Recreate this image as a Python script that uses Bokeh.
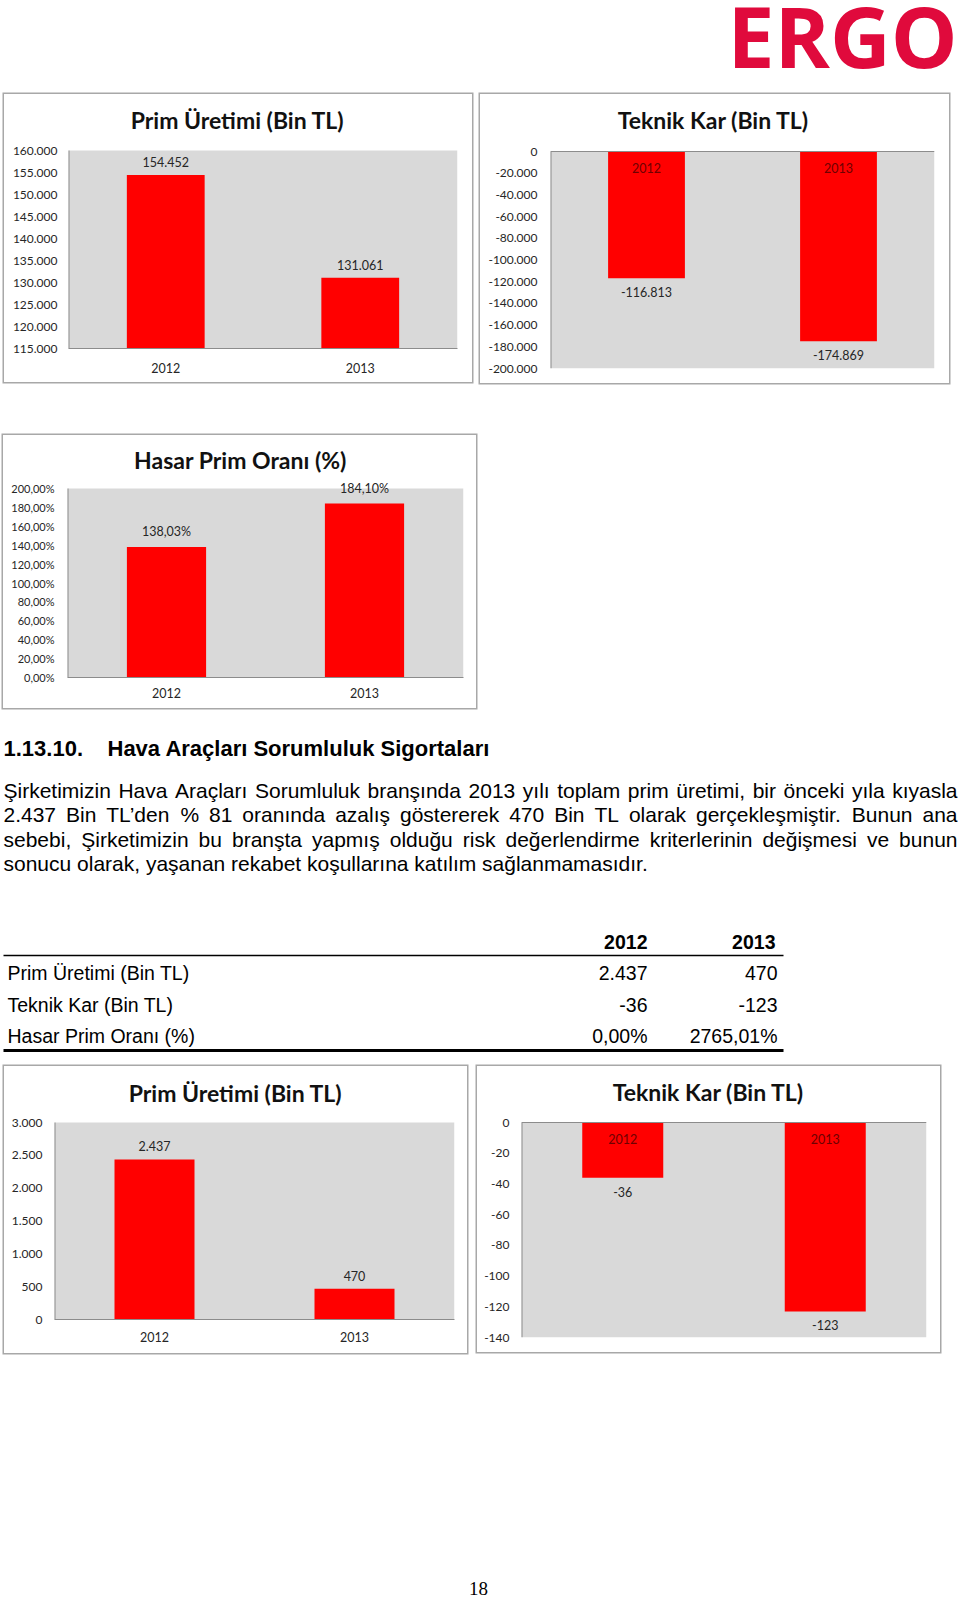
from bokeh.plotting import figure
from bokeh.models import (Range1d, FactorRange, FixedTicker, BoxAnnotation, Label,
                          LabelSet, Spacer, ColumnDataSource)
from bokeh.layouts import column, row
from bokeh.embed import file_html
from bokeh.resources import INLINE
from bokeh.core.properties import value

# ------------------------------------------------------------------ data
years = ["2012", "2013"]

prim_top = [154452, 131061]
prim_top_labels = ["154.452", "131.061"]
prim_top_ticks = [115000, 120000, 125000, 130000, 135000, 140000, 145000, 150000, 155000, 160000]
prim_top_tick_labels = ["115.000", "120.000", "125.000", "130.000", "135.000",
                        "140.000", "145.000", "150.000", "155.000", "160.000"]

teknik_top = [-116813, -174869]
teknik_top_labels = ["-116.813", "-174.869"]
teknik_top_ticks = [0, -20000, -40000, -60000, -80000, -100000, -120000, -140000,
                    -160000, -180000, -200000]
teknik_top_tick_labels = ["0", "-20.000", "-40.000", "-60.000", "-80.000", "-100.000",
                          "-120.000", "-140.000", "-160.000", "-180.000", "-200.000"]

hasar_top = [138.03, 184.10]
hasar_top_labels = ["138,03%", "184,10%"]
hasar_ticks = [0, 20, 40, 60, 80, 100, 120, 140, 160, 180, 200]
hasar_tick_labels = ["0,00%", "20,00%", "40,00%", "60,00%", "80,00%", "100,00%",
                     "120,00%", "140,00%", "160,00%", "180,00%", "200,00%"]

prim_bot = [2437, 470]
prim_bot_labels = ["2.437", "470"]
prim_bot_ticks = [0, 500, 1000, 1500, 2000, 2500, 3000]
prim_bot_tick_labels = ["0", "500", "1.000", "1.500", "2.000", "2.500", "3.000"]

teknik_bot = [-36, -123]
teknik_bot_labels = ["-36", "-123"]
teknik_bot_ticks = [0, -20, -40, -60, -80, -100, -120, -140]
teknik_bot_tick_labels = ["0", "-20", "-40", "-60", "-80", "-100", "-120", "-140"]

table_header = ["2012", "2013"]
table_rows = ["Prim Üretimi (Bin TL)", "Teknik Kar (Bin TL)", "Hasar Prim Oranı (%)"]
table_2012 = ["2.437", "-36", "0,00%"]
table_2013 = ["470", "-123", "2765,01%"]

heading_num = "1.13.10."
heading_text = "Hava Araçları Sorumluluk Sigortaları"
para_lines = [
    "Şirketimizin Hava Araçları Sorumluluk branşında 2013 yılı toplam prim üretimi, bir önceki yıla kıyasla",
    "2.437 Bin TL’den % 81 oranında azalış göstererek 470 Bin TL olarak gerçekleşmiştir. Bunun ana",
    "sebebi, Şirketimizin bu branşta yapmış olduğu risk değerlendirme kriterlerinin değişmesi ve bunun",
    "sonucu olarak, yaşanan rekabet koşullarına katılım sağlanmamasıdır.",
]
page_number = "18"
logo_text = "ERGO"

# ------------------------------------------------------------------ style
RED = "#ff0000"
PLOT_BG = "#d9d9d9"
AXIS = "#8c8c8c"
TXT = "#262626"
BOX_STYLE = {"box-shadow": "0 0 0 1.5px #a8a8a8"}
CHART_FONT = "Lato"
DOC_FONT = "Liberation Sans"


def chart(title, vals, labels, ticks, tick_labels, ymin, ymax, W, H, fl, fr, top, fb,
          tx, ty, negative, standoff, x_standoff=11, tick_size="12px"):
    plot_h = H - fb - top
    plot_w = W - fl - fr
    span = ymax - ymin
    y_top = ymax + span * (top - 1) / plot_h          # frame reaches 1px under the top
    p = figure(width=W, height=H, x_range=FactorRange(factors=years),
               y_range=Range1d(ymin, y_top),
               x_axis_location=None if negative else "below",
               output_backend="svg", toolbar_location=None,
               min_border_left=fl, min_border_right=fr,
               min_border_top=1, min_border_bottom=fb)
    p.styles = BOX_STYLE
    p.background_fill_color = "white"
    p.border_fill_color = "white"
    p.outline_line_color = None
    p.grid.visible = False

    # grey plot area
    p.add_layout(BoxAnnotation(bottom=ymin, top=ymax, fill_color=PLOT_BG, fill_alpha=1,
                               line_color=None, level="underlay"))

    base = 0 if negative else ymin
    src = ColumnDataSource(dict(year=years, val=vals, lab=labels, base=[base] * len(years)))
    if negative:
        p.vbar(x="year", top="base", bottom="val", width=0.4, source=src,
               fill_color=RED, line_color=None)
        p.segment(x0=[0], y0=[0], x1=[2], y1=[0], line_color=AXIS, line_width=1)
    else:
        p.vbar(x="year", top="val", bottom="base", width=0.4, source=src,
               fill_color=RED, line_color=None)
    # left axis line along the plot area only
    p.segment(x0=[0], y0=[ymin], x1=[0], y1=[ymax], line_color=AXIS, line_width=2)

    ya = p.yaxis[0]
    ya.ticker = FixedTicker(ticks=ticks)
    ya.major_label_overrides = {t: l for t, l in zip(ticks, tick_labels)}
    ya.axis_line_color = None
    ya.major_tick_line_color = None
    ya.minor_tick_line_color = None
    ya.major_tick_out = 0
    ya.major_tick_in = 0
    ya.major_label_text_font = CHART_FONT
    ya.major_label_text_font_size = tick_size
    ya.major_label_text_color = TXT
    ya.major_label_standoff = standoff

    if not negative:
        xa = p.xaxis[0]
        xa.axis_line_color = AXIS
        xa.major_tick_line_color = None
        xa.minor_tick_line_color = None
        xa.major_tick_out = 0
        xa.major_tick_in = 0
        xa.major_label_text_font = CHART_FONT
        xa.major_label_text_font_size = "12.5px"
        xa.major_label_text_color = TXT
        xa.major_label_standoff = x_standoff
        dl = LabelSet(x="year", y="val", text="lab", source=src,
                      text_align="center", text_baseline="bottom", y_offset=8,
                      text_font=value(CHART_FONT), text_font_size=value("12.5px"),
                      text_color=TXT)
    else:
        cats = LabelSet(x="year", y="base", text="year", source=src,
                        text_align="center", text_baseline="top", y_offset=-11,
                        text_font=value(CHART_FONT), text_font_size=value("12.5px"),
                        text_color="#6e0000")
        p.add_layout(cats)
        dl = LabelSet(x="year", y="val", text="lab", source=src,
                      text_align="center", text_baseline="top", y_offset=-9,
                      text_font=value(CHART_FONT), text_font_size=value("12.5px"),
                      text_color=TXT)
    p.add_layout(dl)

    p.add_layout(Label(x=(tx - fl) / plot_w * 2, y=ymax + span * (top - ty) / plot_h,
                       text=title, text_align="center", text_baseline="middle",
                       text_font=CHART_FONT, text_font_style="bold",
                       text_font_size="23px", text_color="#111111"))
    return p


def canvas(W, H):
    p = figure(width=W, height=H, x_range=Range1d(0, W), y_range=Range1d(H, 0),
               x_axis_type=None, y_axis_type=None,
               output_backend="svg", toolbar_location=None, min_border=0)
    p.grid.visible = False
    p.outline_line_color = None
    p.background_fill_color = "white"
    p.border_fill_color = "white"
    return p


# Arial / Liberation Sans advance widths (1/1000 em) used to justify the paragraph
ARIAL = {' ': 278, 'a': 556, 'b': 556, 'c': 500, 'd': 556, 'e': 556, 'f': 278, 'g': 556,
         'h': 556, 'i': 222, 'j': 222, 'k': 500, 'l': 222, 'm': 833, 'n': 556, 'o': 556,
         'p': 556, 'q': 556, 'r': 333, 's': 500, 't': 278, 'u': 556, 'v': 500, 'w': 722,
         'x': 500, 'y': 500, 'z': 500, 'ç': 500, 'ş': 500, 'ğ': 556, 'ı': 278, 'ö': 556,
         'ü': 556, 'A': 667, 'B': 667, 'H': 722, 'L': 556, 'S': 667, 'Ş': 667, 'T': 611,
         '.': 278, ',': 278, '%': 889, '’': 222, '-': 333}


def wwidth(s, size):
    return sum(ARIAL.get(c, 556) for c in s) * size / 1000.0


# ------------------------------------------------------------------ logo
logo = canvas(230, 70)
logo.text(x=[112], y=[35], text=[logo_text], text_align="center", text_baseline="middle",
          text_font=value("Open Sans"), text_font_style="bold",
          text_font_size=value("84px"), text_color="#e00a3c")

# ------------------------------------------------------------------ charts
c1 = chart("Prim Üretimi (Bin TL)", prim_top, prim_top_labels, prim_top_ticks,
           prim_top_tick_labels, 115000, 160000, 468, 288, 64, 15, 56, 34, 233, 25,
           False, 11, x_standoff=14)
c2 = chart("Teknik Kar (Bin TL)", teknik_top, teknik_top_labels, teknik_top_ticks,
           teknik_top_tick_labels, -200000, 0, 469, 289, 70, 15, 57, 15, 233, 25,
           True, 13)
c3 = chart("Hasar Prim Oranı (%)", hasar_top, hasar_top_labels, hasar_ticks,
           hasar_tick_labels, 0, 200, 473, 273, 64, 13, 53, 31, 237, 24,
           False, 13, x_standoff=10, tick_size="11px")
c4 = chart("Prim Üretimi (Bin TL)", prim_bot, prim_bot_labels, prim_bot_ticks,
           prim_bot_tick_labels, 0, 3000, 463, 287, 50, 13, 56, 34, 231, 26,
           False, 12, x_standoff=12)
c5 = chart("Teknik Kar (Bin TL)", teknik_bot, teknik_bot_labels, teknik_bot_ticks,
           teknik_bot_tick_labels, -140, 0, 463, 286, 44, 14, 56, 15, 231, 25,
           True, 12)

# ------------------------------------------------------------------ text block
TEXT_W = 958
PARA_SIZE = 21
PARA_LEFT, PARA_RIGHT = 3, 957
txt = canvas(TEXT_W, 172)
txt.text(x=[3, 107], y=[38, 38], text=[heading_num, heading_text], text_align="left",
         text_baseline="middle", text_font=value(DOC_FONT), text_font_style="bold",
         text_font_size=value("22px"), text_color="#000000")
wx, wy, wt = [], [], []
for i, line in enumerate(para_lines):
    words = line.split(" ")
    widths = [wwidth(w, PARA_SIZE) for w in words]
    if i < len(para_lines) - 1:
        gap = (PARA_RIGHT - PARA_LEFT - sum(widths)) / (len(words) - 1)
    else:
        gap = wwidth(" ", PARA_SIZE)
    x = float(PARA_LEFT)
    for w, wd in zip(words, widths):
        wx.append(x)
        wy.append(80 + i * 24.4)
        wt.append(w)
        x += wd + gap
txt.text(x=wx, y=wy, text=wt, text_align="left", text_baseline="middle",
         text_font=value(DOC_FONT), text_font_size=value("%dpx" % PARA_SIZE),
         text_color="#000000")

# ------------------------------------------------------------------ table
tbl = canvas(TEXT_W, 180)
tbl.segment(x0=[3], y0=[73], x1=[783], y1=[73], line_color="#000000", line_width=1.5)
tbl.segment(x0=[3], y0=[168], x1=[783], y1=[168], line_color="#000000", line_width=3)
tbl.text(x=[647, 775], y=[59, 59], text=table_header, text_align="right",
         text_baseline="middle", text_font=value(DOC_FONT), text_font_style="bold",
         text_font_size=value("19.5px"), text_color="#000000")
row_y = [90, 122, 153]
tbl.text(x=[7] * 3, y=row_y, text=table_rows, text_align="left", text_baseline="middle",
         text_font=value(DOC_FONT), text_font_size=value("19.5px"), text_color="#000000")
tbl.text(x=[647] * 3, y=row_y, text=table_2012, text_align="right", text_baseline="middle",
         text_font=value(DOC_FONT), text_font_size=value("19.5px"), text_color="#000000")
tbl.text(x=[777] * 3, y=row_y, text=table_2013, text_align="right", text_baseline="middle",
         text_font=value(DOC_FONT), text_font_size=value("19.5px"), text_color="#000000")

# ------------------------------------------------------------------ page number
pn = canvas(TEXT_W, 46)
pn.text(x=[478], y=[35.5], text=[page_number], text_align="center", text_baseline="middle",
        text_font=value("Liberation Serif"), text_font_size=value("19px"),
        text_color="#000000")

# ------------------------------------------------------------------ layout
page = column(
    row(Spacer(width=730, height=70), logo),
    Spacer(width=10, height=24),
    row(Spacer(width=4, height=10), column(c1), Spacer(width=8, height=10), column(c2)),
    Spacer(width=10, height=52),
    row(Spacer(width=3, height=10), column(c3)),
    Spacer(width=10, height=2),
    row(txt),
    row(tbl),
    Spacer(width=10, height=4),
    row(Spacer(width=4, height=10), column(c4), Spacer(width=10, height=10), column(c5)),
    Spacer(width=10, height=199),
    row(pn),
)

open("out.html", "w").write(file_html(page, INLINE))
